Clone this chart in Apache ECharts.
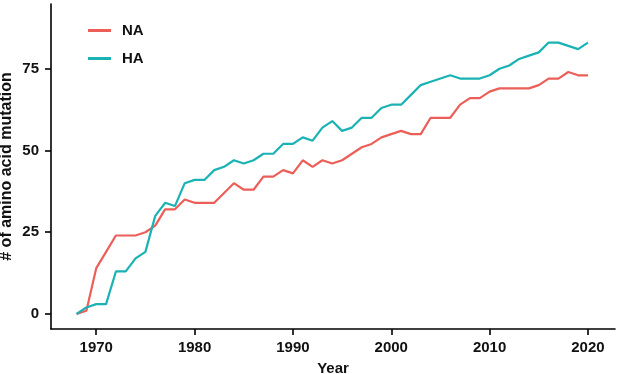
<!DOCTYPE html>
<html lang="en">
<head>
    <meta charset="UTF-8">
    <title>Mutations</title>
    <script src="https://cdn.jsdelivr.net/npm/echarts@6/dist/echarts.min.js"></script>
</head>
<style>
    body{
        margin: 0;
        padding: 0;
        background: #fff;
    }
</style>
<body>
<div id="main" style="width: 617px;height:374px;"></div>
<script>
    // years 1968..2020
    var years = [];
    for (var y = 1968; y <= 2020; y++) years.push(y);

    var naValues = [0, 1, 14, 19, 24, 24, 24, 25, 27, 32, 32, 35, 34, 34, 34, 37, 40, 38, 38, 42,
        42, 44, 43, 47, 45, 47, 46, 47, 49, 51, 52, 54, 55, 56, 55, 55, 60, 60, 60, 64,
        66, 66, 68, 69, 69, 69, 69, 70, 72, 72, 74, 73, 73];
    var haValues = [0, 2, 3, 3, 13, 13, 17, 19, 30, 34, 33, 40, 41, 41, 44, 45, 47, 46, 47, 49,
        49, 52, 52, 54, 53, 57, 59, 56, 57, 60, 60, 63, 64, 64, 67, 70, 71, 72, 73, 72,
        72, 72, 73, 75, 76, 78, 79, 80, 83, 83, 82, 81, 83];
    var xTicks = [1970, 1980, 1990, 2000, 2010, 2020];
    var yTicks = [0, 25, 50, 75];

    function pairs(vals) {
        var out = [];
        for (var i = 0; i < years.length; i++) out.push([years[i], vals[i]]);
        return out;
    }

    var font = 'Liberation Sans, Arial, sans-serif';
    var axisCommon = {
        axisLine: {show: true, onZero: false, lineStyle: {color: '#000', width: 1.6}},
        splitLine: {show: false},
        nameMoveOverlap: false,
        axisLabel: {color: '#111', fontWeight: 'bold', fontSize: 15, fontFamily: font,
            formatter: function (v) { return String(v); }},
        nameTextStyle: {color: '#111', fontWeight: 'bold', fontSize: 15, fontFamily: font}
    };

    var chart = echarts.init(document.getElementById('main'));
    chart.setOption({
        animation: false,
        grid: {left: 51, right: 2, top: 4, bottom: 45, containLabel: false, outerBoundsMode: 'none'},
        legend: {
            orient: 'vertical',
            left: 83,
            top: 18,
            icon: 'rect',
            itemWidth: 23,
            itemHeight: 3,
            itemGap: 13,
            textStyle: {color: '#111', fontWeight: 'bold', fontSize: 15, fontFamily: font, padding: [0, 0, 0, 6]},
            data: ['NA', 'HA']
        },
        xAxis: Object.assign({}, axisCommon, {
            type: 'value',
            min: 1965.4,
            max: 2022.75,
            name: 'Year',
            nameLocation: 'middle',
            nameGap: 32,
            axisTick: {show: true, length: 6, lineStyle: {color: '#000', width: 1.6}, customValues: xTicks},
            axisLabel: Object.assign({}, axisCommon.axisLabel, {margin: 11, customValues: xTicks})
        }),
        yAxis: Object.assign({}, axisCommon, {
            type: 'value',
            min: -4.6,
            max: 94.8,
            name: '# of amino acid mutation',
            nameLocation: 'middle',
            nameGap: 36,
            nameTextStyle: Object.assign({}, axisCommon.nameTextStyle, {fontSize: 16}),
            axisTick: {show: true, length: 6, lineStyle: {color: '#000', width: 1.6}, customValues: yTicks},
            axisLabel: Object.assign({}, axisCommon.axisLabel, {margin: 12, customValues: yTicks})
        }),
        series: [
            {
                name: 'NA',
                type: 'line',
                symbol: 'none',
                data: pairs(naValues),
                itemStyle: {color: '#EC5F59'},
                lineStyle: {color: '#EC5F59', width: 2.2}
            },
            {
                name: 'HA',
                type: 'line',
                symbol: 'none',
                data: pairs(haValues),
                itemStyle: {color: '#1AB2B4'},
                lineStyle: {color: '#1AB2B4', width: 2.2}
            }
        ]
    });
</script>
</body>
</html>
